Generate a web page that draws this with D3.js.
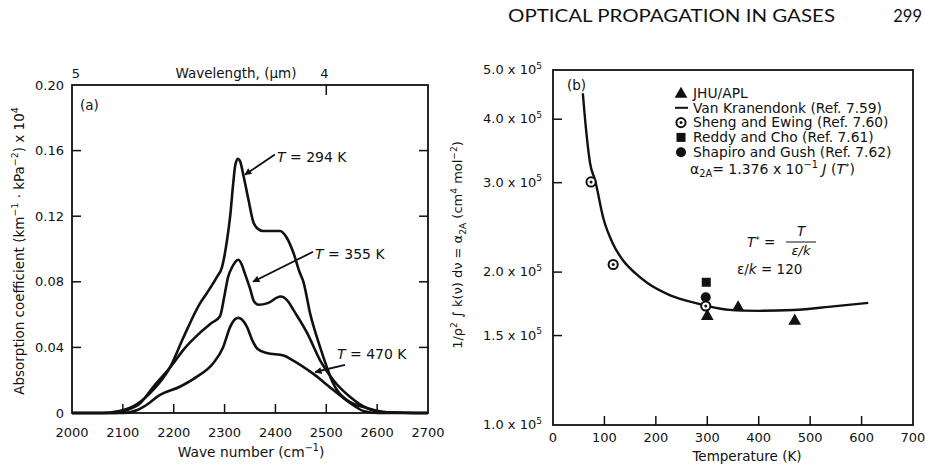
<!DOCTYPE html>
<html><head><meta charset="utf-8">
<script src="https://cdn.jsdelivr.net/npm/d3@7"></script>
<style>
body{margin:0;background:#fff;}
svg{display:block;}
text{font-family:"DejaVu Sans","Liberation Sans",Arial,sans-serif;fill:#111;}
</style></head>
<body><svg id="c" width="925" height="468"></svg>
<script>
// ---------- Panel (a) data: wave number (cm^-1) vs absorption coefficient ----------
const curve294 = [[2000,0],[2060,0],[2090,0.001],[2120,0.004],[2153,0.012],[2193,0.028],[2219,0.046],[2252,0.067],[2265,0.073],[2285,0.083],[2295,0.089],[2305,0.1057],[2311,0.12],[2317,0.14],[2321,0.151],[2326,0.155],[2331,0.153],[2337,0.145],[2347,0.13],[2357,0.116],[2367,0.112],[2376,0.111],[2409,0.111],[2422,0.107],[2435,0.098],[2448,0.0855],[2455,0.08],[2468,0.061],[2488,0.04],[2501,0.028],[2512,0.019],[2540,0.008],[2580,0.003],[2620,0.0005],[2700,0]];
const curve355 = [[2000,0],[2080,0],[2110,0.002],[2134,0.006],[2160,0.016],[2196,0.029],[2219,0.0385],[2252,0.049],[2275,0.055],[2291,0.059],[2300,0.072],[2307,0.083],[2315,0.089],[2322,0.0925],[2327,0.0934],[2333,0.091],[2340,0.085],[2350,0.076],[2358,0.068],[2367,0.066],[2385,0.067],[2410,0.071],[2425,0.068],[2435,0.063],[2462,0.049],[2488,0.032],[2514,0.02],[2547,0.0098],[2580,0.003],[2610,0.0005],[2700,0]];
const curve470 = [[2000,0],[2100,0],[2130,0.002],[2142,0.004],[2173,0.011],[2212,0.016],[2245,0.022],[2278,0.0305],[2297,0.04],[2311,0.0525],[2320,0.057],[2327,0.058],[2334,0.057],[2344,0.0525],[2355,0.044],[2365,0.039],[2383,0.0366],[2416,0.035],[2435,0.032],[2474,0.024],[2514,0.014],[2547,0.006],[2575,0.001],[2600,0],[2700,0]];
const xTicksA = [2000,2100,2200,2300,2400,2500,2600,2700];
const yTicksA = [0,0.04,0.08,0.12,0.16,0.20];
const yTickLabelsA = ["0","0.04","0.08","0.12","0.16","0.20"];
const wavelengthTicks = [5,4];
const labelsA = [
  {t:"294 K", text:[2403,0.1563], from:[2399,0.1576], to:[2340,0.1453]},
  {t:"355 K", text:[2478,0.0971], from:[2474,0.0983], to:[2356,0.080]},
  {t:"470 K", text:[2521,0.036],  from:[2537,0.0293], to:[2478,0.025]}
];

// ---------- Panel (b) data: temperature (K) vs integrated absorption ----------
const vanKranendonk = [[58,4.5e5],[64,3.84e5],[72,3.28e5],[82,3.03e5],[98,2.55e5],[117,2.27e5],[136,2.11e5],[160,1.99e5],[183,1.905e5],[228,1.80e5],[280,1.735e5],[300,1.715e5],[344,1.685e5],[400,1.678e5],[467,1.684e5],[545,1.712e5],[613,1.74e5]];
const jhuApl = [[300,1.645e5],[360,1.71e5],[470,1.61e5]];
const shengEwing = [[74,3.01e5],[117,2.07e5],[297,1.715e5]];
const reddyCho = [[298,1.91e5]];
const shapiroGush = [[297,1.785e5]];
const xTicksB = [0,100,200,300,400,500,600,700];
const yTicksB = [1.0e5,1.5e5,2.0e5,3.0e5,4.0e5,5.0e5];
const yTickLabelsB = ["1.0","1.5","2.0","3.0","4.0","5.0"];
const legendB = ["JHU/APL","Van Kranendonk (Ref. 7.59)","Sheng and Ewing (Ref. 7.60)","Reddy and Cho (Ref. 7.61)","Shapiro and Gush (Ref. 7.62)"];

const svg = d3.select("#c");
svg.append("rect").attr("width",925).attr("height",468).attr("fill","#fff");

function rich(sel, parts, fs){
  let prev = 0;
  parts.forEach(([t,k])=>{
    const off = k==="sup" ? -0.42*fs : k==="sub" ? 0.28*fs : 0;
    const ts = sel.append("tspan").text(t).attr("dy", off - prev);
    if(k==="sup"||k==="sub") ts.attr("font-size", fs*0.7);
    prev = off;
  });
}

// Header
svg.append("text").attr("x",508).attr("y",22)
  .attr("font-size",16.5).attr("textLength",327).attr("lengthAdjust","spacingAndGlyphs")
  .style("font-family","Lato, 'Open Sans', sans-serif").attr("fill","#222").text("OPTICAL PROPAGATION IN GASES");
svg.append("text").attr("x",922).attr("y",22).attr("text-anchor","end")
  .style("font-family","Lato, 'Open Sans', sans-serif").attr("font-size",16.5).attr("fill","#222").text("299");

// ================= Panel (a) =================
const xA = d3.scaleLinear().domain([2000,2700]).range([72,428]);
const yA = d3.scaleLinear().domain([0,0.20]).range([413,85]);
const gA = svg.append("g");
gA.append("rect").attr("x",xA(2000)).attr("y",yA(0.2)).attr("width",xA(2700)-xA(2000)).attr("height",yA(0)-yA(0.2))
  .attr("fill","none").attr("stroke","#111").attr("stroke-width",1.8);
xTicksA.slice(1,-1).forEach(v=>{
  gA.append("line").attr("x1",xA(v)).attr("x2",xA(v)).attr("y1",yA(0)).attr("y2",yA(0)-9).attr("stroke","#111").attr("stroke-width",1.5);
});
yTicksA.slice(1,-1).forEach(v=>{
  gA.append("line").attr("x1",xA(2000)).attr("x2",xA(2000)+9).attr("y1",yA(v)).attr("y2",yA(v)).attr("stroke","#111").attr("stroke-width",1.5);
  gA.append("line").attr("x1",xA(2700)).attr("x2",xA(2700)-9).attr("y1",yA(v)).attr("y2",yA(v)).attr("stroke","#111").attr("stroke-width",1.5);
});
xTicksA.forEach(v=>{
  gA.append("text").attr("x",xA(v)).attr("y",437).attr("text-anchor","middle").attr("font-size",13).text(v);
});
yTicksA.forEach((v,i)=>{
  gA.append("text").attr("x",64).attr("y",yA(v)+4.5).attr("text-anchor","end").attr("font-size",13).text(yTickLabelsA[i]);
});
wavelengthTicks.forEach(l=>{
  const x = xA(1e4/l);
  if(l!==5) gA.append("line").attr("x1",x).attr("x2",x).attr("y1",yA(0.2)).attr("y2",yA(0.2)+10).attr("stroke","#111").attr("stroke-width",1.5);
  gA.append("text").attr("x",x+(l===5?4:-2)).attr("y",78).attr("text-anchor","middle").attr("font-size",13).text(l);
});
gA.append("text").attr("x",236).attr("y",78).attr("text-anchor","middle").attr("font-size",13.5).text("Wavelength, (\u00b5m)");
gA.append("text").attr("x",80).attr("y",110).attr("font-size",13.5).text("(a)");
const tA = gA.append("text").attr("text-anchor","middle").attr("font-size",13.5)
  .attr("transform","translate(24,251) rotate(-90)");
rich(tA,[["Absorption coefficient (km","n"],["\u22121","sup"],[" \u00b7 kPa","n"],["\u22122","sup"],[") x 10","n"],["4","sup"]],13.5);
const xtA = gA.append("text").attr("x",251).attr("y",457).attr("text-anchor","middle").attr("font-size",13.8);
rich(xtA,[["Wave number (cm","n"],["\u22121","sup"],[")","n"]],13.8);
const lineA = d3.line().x(d=>xA(d[0])).y(d=>yA(d[1])).curve(d3.curveMonotoneX);
[curve294,curve355,curve470].forEach(c=>{
  gA.append("path").attr("d",lineA(c)).attr("fill","none").attr("stroke","#111").attr("stroke-width",2.6).attr("stroke-linejoin","round");
});
svg.append("defs").append("marker").attr("id","ah").attr("viewBox","0 0 10 10").attr("refX",9).attr("refY",5)
  .attr("markerWidth",9).attr("markerHeight",7).attr("markerUnits","userSpaceOnUse").attr("orient","auto")
  .append("path").attr("d","M0,0 L10,5 L0,10 z").attr("fill","#111");
labelsA.forEach(l=>{
  gA.append("line").attr("x1",xA(l.from[0])).attr("y1",yA(l.from[1])).attr("x2",xA(l.to[0])).attr("y2",yA(l.to[1]))
    .attr("stroke","#111").attr("stroke-width",1.8).attr("marker-end","url(#ah)");
  const t = gA.append("text").attr("x",xA(l.text[0])).attr("y",yA(l.text[1])+5).attr("font-size",14);
  t.append("tspan").attr("font-style","italic").text("T");
  t.append("tspan").text(" = "+l.t);
});

// ================= Panel (b) =================
const xB = d3.scaleLinear().domain([0,700]).range([553,913]);
const yB = d3.scaleLog().domain([1e5,5e5]).range([425,70]);
const gB = svg.append("g");
gB.append("rect").attr("x",xB(0)).attr("y",yB(5e5)).attr("width",xB(700)-xB(0)).attr("height",yB(1e5)-yB(5e5))
  .attr("fill","none").attr("stroke","#111").attr("stroke-width",1.8);
xTicksB.slice(1,-1).forEach(v=>{
  gB.append("line").attr("x1",xB(v)).attr("x2",xB(v)).attr("y1",yB(1e5)).attr("y2",yB(1e5)-9).attr("stroke","#111").attr("stroke-width",1.5);
});
yTicksB.slice(1,-1).forEach(v=>{
  gB.append("line").attr("x1",xB(0)).attr("x2",xB(0)+9).attr("y1",yB(v)).attr("y2",yB(v)).attr("stroke","#111").attr("stroke-width",1.5);
});
xTicksB.forEach(v=>{
  gB.append("text").attr("x",xB(v)).attr("y",442).attr("text-anchor","middle").attr("font-size",13).text(v);
});
yTicksB.forEach((v,i)=>{
  const t = gB.append("text").attr("x",483).attr("y",yB(v)+4).attr("font-size",13)
    .attr("textLength",59).attr("lengthAdjust","spacing");
  rich(t,[[yTickLabelsB[i]+" x 10","n"],["5","sup"]],13);
});
gB.append("text").attr("x",747).attr("y",461).attr("text-anchor","middle").attr("font-size",13.5).text("Temperature (K)");
const ytB = gB.append("text").attr("text-anchor","middle").attr("font-size",13)
  .attr("transform","translate(462,245) rotate(-90)");
rich(ytB,[["1/\u03c1","n"],["2","sup"],[" \u222b k(\u03bd) d\u03bd = \u03b1","n"],["2A","sub"],[" (cm","n"],["4","sup"],[" mol","n"],["\u22122","sup"],[")","n"]],13);
gB.append("text").attr("x",567).attr("y",90).attr("font-size",13.5).text("(b)");

const lineB = d3.line().x(d=>xB(d[0])).y(d=>yB(d[1])).curve(d3.curveMonotoneX);
gB.append("path").attr("d",lineB(vanKranendonk)).attr("fill","none").attr("stroke","#111").attr("stroke-width",2.4);

const tri = d3.symbol().type(d3.symbolTriangle).size(70);
function drawMarker(g,kind,x,y){
  if(kind==="tri") g.append("path").attr("d",tri()).attr("transform",`translate(${x},${y+1})`).attr("fill","#111");
  else if(kind==="sq") g.append("rect").attr("x",x-4.5).attr("y",y-4.5).attr("width",9).attr("height",9).attr("fill","#111");
  else if(kind==="dot") g.append("circle").attr("cx",x).attr("cy",y).attr("r",5).attr("fill","#111");
  else if(kind==="ring"){
    g.append("circle").attr("cx",x).attr("cy",y).attr("r",4.6).attr("fill","#fff").attr("stroke","#111").attr("stroke-width",2);
    g.append("circle").attr("cx",x).attr("cy",y).attr("r",1.5).attr("fill","#111");
  }
}
shapiroGush.forEach(d=>drawMarker(gB,"dot",xB(d[0]),yB(d[1])));
shengEwing.forEach(d=>drawMarker(gB,"ring",xB(d[0]),yB(d[1])));
reddyCho.forEach(d=>drawMarker(gB,"sq",xB(d[0]),yB(d[1])));
jhuApl.forEach(d=>drawMarker(gB,"tri",xB(d[0]),yB(d[1])));

const legKinds = ["tri","line","ring","sq","dot"];
legendB.forEach((name,i)=>{
  const y = 93 + i*14.8;
  if(legKinds[i]==="line"){
    gB.append("line").attr("x1",675).attr("x2",688).attr("y1",y).attr("y2",y).attr("stroke","#111").attr("stroke-width",2);
  } else drawMarker(gB,legKinds[i],681,y);
  gB.append("text").attr("x",693).attr("y",y+4.8).attr("font-size",13.8).text(name);
});
const f1 = gB.append("text").attr("x",690).attr("y",173.5).attr("font-size",14);
rich(f1,[["\u03b1","n"],["2A","sub"],["= 1.376 x 10","n"],["\u22121","sup"],[" ","n"]],14);
f1.append("tspan").attr("font-style","italic").text("J");
f1.append("tspan").text(" (");
f1.append("tspan").attr("font-style","italic").text("T");
f1.append("tspan").attr("dy",-4).attr("font-size",9).text("*");
f1.append("tspan").attr("dy",4).text(")");
const f2 = gB.append("text").attr("x",747).attr("y",247).attr("font-size",13.5);
f2.append("tspan").attr("font-style","italic").text("T");
f2.append("tspan").attr("dy",-4).attr("font-size",9).text("*");
f2.append("tspan").attr("dy",4).text(" =");
gB.append("text").attr("x",801).attr("y",236).attr("text-anchor","middle").attr("font-size",13.5).attr("font-style","italic").text("T");
gB.append("line").attr("x1",786).attr("x2",816).attr("y1",242).attr("y2",242).attr("stroke","#111").attr("stroke-width",1);
gB.append("text").attr("x",801).attr("y",255).attr("text-anchor","middle").attr("font-size",13).attr("font-style","italic").text("\u03b5/k");
const f3 = gB.append("text").attr("x",737).attr("y",274).attr("font-size",13.5);
f3.append("tspan").text("\u03b5/");
f3.append("tspan").attr("font-style","italic").text("k");
f3.append("tspan").text(" = 120");
</script></body></html>
